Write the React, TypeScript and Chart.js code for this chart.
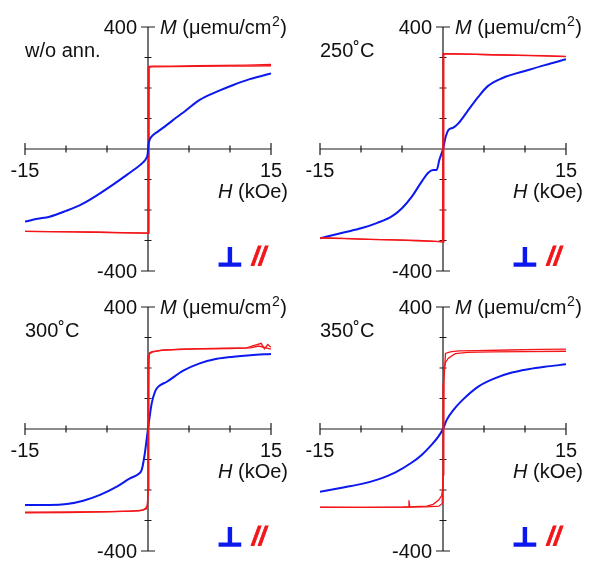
import React, { useEffect, useRef } from 'react';
import { Chart, registerables } from 'chart.js';

Chart.register(...registerables);

// ---------- data ----------
const fieldMin = -15;
const fieldMax = 15;
const momentMin = -400;
const momentMax = 400;
const xTickLabels = ['-15', '15'];
const yTickLabels = ['400', '-400'];
const panelTitles = ['w/o ann.', '250˚C', '300˚C', '350˚C'];
const xAxisTitle = ['H', ' (kOe)'];
const yAxisTitle = ['M', ' (μemu/cm', '2', ')'];
const legendPerp = '⊥';
const legendPar = '//';

// Panel 1: w/o ann.
const perpH1 = [-15, -13.5, -12, -10, -8, -6, -4, -2.5, -1.5, -0.6, -0.2, -0.05, 0.05, 0.2, 0.6, 1.2, 2.3, 3.5, 4.5, 6.3, 8.4, 10.4, 12.4, 13.5, 15];
const perpM1 = [-238, -229, -222, -203, -180, -148, -112, -83, -64, -44, -30, -18, 12, 30, 45, 57, 79, 104, 124, 161, 188, 210, 229, 237, 248];
const parUpH1 = [-15, -12, -9, -6, -3, -1, 0.05, 0.12, 0.5, 3, 6, 9, 12, 15];
const parUpM1 = [-270, -271, -272, -273, -274, -275, -276, 271, 272, 272, 273, 274, 275, 277];
const parDnH1 = [15, 12, 9, 6, 3, 0.5, 0.12, 0.05, -1, -3, -6, -9, -12, -15];
const parDnM1 = [273, 272, 272, 271, 270, 269, 268, -276, -276, -275, -273, -272, -271, -270];

// Panel 2: 250˚C
const perpH2 = [-15, -12, -10, -8, -6.3, -5, -3.8, -2.6, -1.8, -1.2, -0.77, -0.45, 0, 0.33, 0.65, 1.26, 1.87, 3.1, 4.3, 5.5, 7.2, 10.4, 12.4, 15];
const perpM2 = [-293, -273, -260, -242, -222, -194, -156, -107, -78, -69, -69, -36, 0, 40, 62, 70, 84, 128, 171, 207, 232, 259, 275, 294];
const parUpH2 = [-15, -12, -9, -6, -3, -1, 0.05, 0.1, 1, 3, 6, 9, 12, 15];
const parUpM2 = [-291, -293, -296, -298, -300, -303, -305, 311, 312, 311, 309, 307, 305, 303];
const parDnH2 = [15, 12, 9, 6, 3, 1, 0.0, -0.05, -1, -3, -6, -9, -12, -15];
const parDnM2 = [304, 306, 308, 309, 311, 313, 313, -302, -303, -301, -298, -296, -294, -292];

// Panel 3: 300˚C
const perpH3 = [-15, -12, -9.9, -7.9, -5.85, -3.8, -2.2, -1.2, -0.77, -0.45, 0, 0.45, 0.85, 1.26, 2.3, 4.3, 6.3, 8.4, 10.4, 12.5, 15];
const perpM3 = [-249, -249, -246, -235, -216, -189, -162, -148, -134, -91, 0, 84, 122, 139, 155, 191, 215, 230, 237, 242, 246];
const parUpH3 = [-15, -10, -5, -2, -0.6, -0.3, -0.1, 0.05, 0.1, 0.15, 0.5, 1.5, 4, 8, 12, 13.8, 14.2, 14.6, 15];
const parUpM3 = [-273, -272, -271, -269, -266, -260, -250, -200, 200, 245, 252, 258, 262, 264, 266, 281, 263, 277, 268];
const parDnH3 = [15, 13.5, 12.5, 10, 6, 2, 0.5, 0.2, 0.1, 0.0, -0.05, -0.2, -1, -5, -10, -15];
const parDnM3 = [262, 272, 266, 264, 263, 259, 254, 250, 240, -200, -250, -262, -268, -272, -274, -275];

// Panel 4: 350˚C
const perpH4 = [-15, -12, -9.9, -7.9, -5.85, -3.8, -2.6, -1.4, -0.57, 0, 0.45, 1.26, 2.3, 4.3, 6.3, 8.4, 10.4, 12.4, 15];
const perpM4 = [-206, -191, -180, -165, -143, -110, -85, -52, -25, 0, 30, 62, 93, 139, 166, 185, 196, 204, 212];
const parUpH4 = [-15, -10, -6, -4.25, -4.15, -4.05, -2, -0.5, -0.1, 0.0, 0.1, 0.3, 0.65, 1.5, 3, 6, 10, 15];
const parUpM4 = [-256, -257, -256, -256, -234, -256, -255, -253, -245, -150, 195, 218, 232, 247, 251, 253, 254, 255];
const parDnH4 = [15, 12, 8, 4, 2, 1, 0.3, 0.1, 0.0, -0.16, -0.5, -1.2, -2, -5, -10, -15];
const parDnM4 = [262, 261, 259, 257, 256, 254, 248, 150, -195, -218, -232, -247, -253, -256, -257, -257];

const panels = [
  { title: panelTitles[0], perp: [perpH1, perpM1], up: [parUpH1, parUpM1], dn: [parDnH1, parDnM1], perpOnTop: true },
  { title: panelTitles[1], perp: [perpH2, perpM2], up: [parUpH2, parUpM2], dn: [parDnH2, parDnM2], perpOnTop: false },
  { title: panelTitles[2], perp: [perpH3, perpM3], up: [parUpH3, parUpM3], dn: [parDnH3, parDnM3], perpOnTop: false },
  { title: panelTitles[3], perp: [perpH4, perpM4], up: [parUpH4, parUpM4], dn: [parDnH4, parDnM4], perpOnTop: false },
];

// ---------- styles ----------
const FONT = "'Liberation Sans', Arial, Helvetica, sans-serif";
const AXIS_COLOR = '#1a1a1a';
const TEXT_COLOR = '#111111';
const BLUE = '#0b18ee';
const RED = '#f2161a';
const PANEL_W = 295;
const PANEL_H = 280;
const FS = 20;

const toPoints = (h: number[], m: number[]) => h.map((v, i) => ({ x: v, y: m[i] }));

const axesPlugin = {
  id: 'hysAxes',
  beforeDatasetsDraw(chart: any) {
    const { ctx } = chart;
    const xs = chart.scales.x;
    const ys = chart.scales.y;
    const x0 = xs.getPixelForValue(0);
    const y0 = ys.getPixelForValue(0);
    ctx.save();
    ctx.strokeStyle = AXIS_COLOR;
    ctx.lineWidth = 1.2;
    ctx.beginPath();
    ctx.moveTo(xs.getPixelForValue(fieldMin), y0);
    ctx.lineTo(xs.getPixelForValue(fieldMax), y0);
    ctx.moveTo(x0, ys.getPixelForValue(momentMax));
    ctx.lineTo(x0, ys.getPixelForValue(momentMin));
    xs.ticks.forEach((t: any) => {
      if (t.value === 0) return;
      const px = xs.getPixelForValue(t.value);
      const h = Math.abs(t.value) === fieldMax ? 6 : 3.5;
      ctx.moveTo(px, y0 - h);
      ctx.lineTo(px, y0 + h);
    });
    ys.ticks.forEach((t: any) => {
      if (t.value === 0) return;
      const py = ys.getPixelForValue(t.value);
      const w = Math.abs(t.value) === momentMax ? 7 : 3.5;
      ctx.moveTo(x0 - w, py);
      ctx.lineTo(x0 + w, py);
    });
    ctx.stroke();
    ctx.restore();
  },
  afterDraw(chart: any, _args: any, opts: any) {
    const { ctx } = chart;
    const xs = chart.scales.x;
    const ys = chart.scales.y;
    const x0 = xs.getPixelForValue(0);
    const y0 = ys.getPixelForValue(0);
    const yTop = ys.getPixelForValue(momentMax);
    const yBot = ys.getPixelForValue(momentMin);
    const xL = xs.getPixelForValue(fieldMin);
    const xR = xs.getPixelForValue(fieldMax);
    ctx.save();
    ctx.fillStyle = TEXT_COLOR;
    ctx.textBaseline = 'alphabetic';
    const normal = `${FS}px ${FONT}`;
    const italic = `italic ${FS}px ${FONT}`;
    const sup = `14px ${FONT}`;
    ctx.font = normal;
    // y tick labels
    ctx.textAlign = 'right';
    ctx.fillText(yTickLabels[0], x0 - 11, yTop + 7);
    ctx.fillText(yTickLabels[1], x0 - 11, yBot + 7);
    // x tick labels
    ctx.textAlign = 'center';
    ctx.fillText(xTickLabels[0], xL, y0 + 28);
    ctx.fillText(xTickLabels[1], xR, y0 + 28);
    // y axis title: M (μemu/cm²)
    ctx.textAlign = 'left';
    let cx = x0 + 12;
    const by = yTop + 7;
    ctx.font = italic;
    ctx.fillText(yAxisTitle[0], cx, by);
    cx += ctx.measureText(yAxisTitle[0]).width;
    ctx.font = normal;
    ctx.fillText(yAxisTitle[1], cx, by);
    cx += ctx.measureText(yAxisTitle[1]).width + 0.5;
    ctx.font = sup;
    ctx.fillText(yAxisTitle[2], cx, by - 8);
    cx += ctx.measureText(yAxisTitle[2]).width + 0.5;
    ctx.font = normal;
    ctx.fillText(yAxisTitle[3], cx, by);
    // x axis title (right aligned)
    ctx.textAlign = 'right';
    const hx = xR + 17;
    ctx.fillText(xAxisTitle[1], hx, y0 + 49);
    const kw = ctx.measureText(xAxisTitle[1]).width;
    ctx.font = italic;
    ctx.fillText(xAxisTitle[0], hx - kw, y0 + 49);
    // panel title
    ctx.font = normal;
    ctx.textAlign = 'left';
    ctx.fillText(opts.title, xL, yTop + 30);
    // legend
    ctx.save();
    ctx.translate(x0 + 69, yBot - 5);
    ctx.scale(1.1, 1);
    ctx.font = `bold 26px 'DejaVu Sans', sans-serif`;
    ctx.fillStyle = BLUE;
    ctx.strokeStyle = BLUE;
    ctx.lineWidth = 1.3;
    ctx.fillText(legendPerp, 0, 0);
    ctx.strokeText(legendPerp, 0, 0);
    ctx.restore();
    ctx.font = `bold italic 25px ${FONT}`;
    ctx.fillStyle = RED;
    ctx.strokeStyle = RED;
    ctx.lineWidth = 0.8;
    ctx.fillText(legendPar, x0 + 104, yBot - 6);
    ctx.strokeText(legendPar, x0 + 104, yBot - 6);
    ctx.restore();
  },
};

function Panel({ index, left, top }: { index: number; left: number; top: number }) {
  const ref = useRef<HTMLCanvasElement>(null);
  useEffect(() => {
    const p = panels[index];
    const perpDs = {
      label: '⊥',
      data: toPoints(p.perp[0], p.perp[1]),
      showLine: true,
      borderColor: BLUE,
      borderWidth: 2,
      pointRadius: 0,
      cubicInterpolationMode: 'monotone' as const,
      fill: false,
    };
    const upDs = {
      label: '// up',
      data: toPoints(p.up[0], p.up[1]),
      showLine: true,
      borderColor: RED,
      borderWidth: 1.3,
      pointRadius: 0,
      tension: 0,
      fill: false,
    };
    const dnDs = { ...upDs, label: '// down', data: toPoints(p.dn[0], p.dn[1]) };
    const datasets = p.perpOnTop ? [perpDs, upDs, dnDs] : [upDs, dnDs, perpDs];
    const chart = new Chart(ref.current as HTMLCanvasElement, {
      type: 'scatter',
      data: { datasets: datasets as any },
      options: {
        responsive: false,
        animation: false,
        events: [],
        layout: { padding: { left: 25, right: 24, top: 27, bottom: 9 } },
        scales: {
          x: { type: 'linear', min: fieldMin, max: fieldMax, ticks: { stepSize: 5 }, display: false },
          y: { type: 'linear', min: momentMin, max: momentMax, ticks: { stepSize: 100 }, display: false },
        },
        plugins: {
          legend: { display: false },
          tooltip: { enabled: false },
          hysAxes: { title: p.title },
        } as any,
      },
      plugins: [axesPlugin],
    });
    return () => chart.destroy();
  }, [index]);
  return (
    <canvas
      ref={ref}
      width={PANEL_W}
      height={PANEL_H}
      style={{ position: 'absolute', left, top, width: PANEL_W, height: PANEL_H, display: 'block' }}
    />
  );
}

export default function App() {
  return (
    <div style={{ position: 'fixed', left: 0, top: 0, width: 590, height: 561, background: '#ffffff', overflow: 'hidden' }}>
      <Panel index={0} left={0} top={0} />
      <Panel index={1} left={PANEL_W} top={0} />
      <Panel index={2} left={0} top={PANEL_H} />
      <Panel index={3} left={PANEL_W} top={PANEL_H} />
    </div>
  );
}
